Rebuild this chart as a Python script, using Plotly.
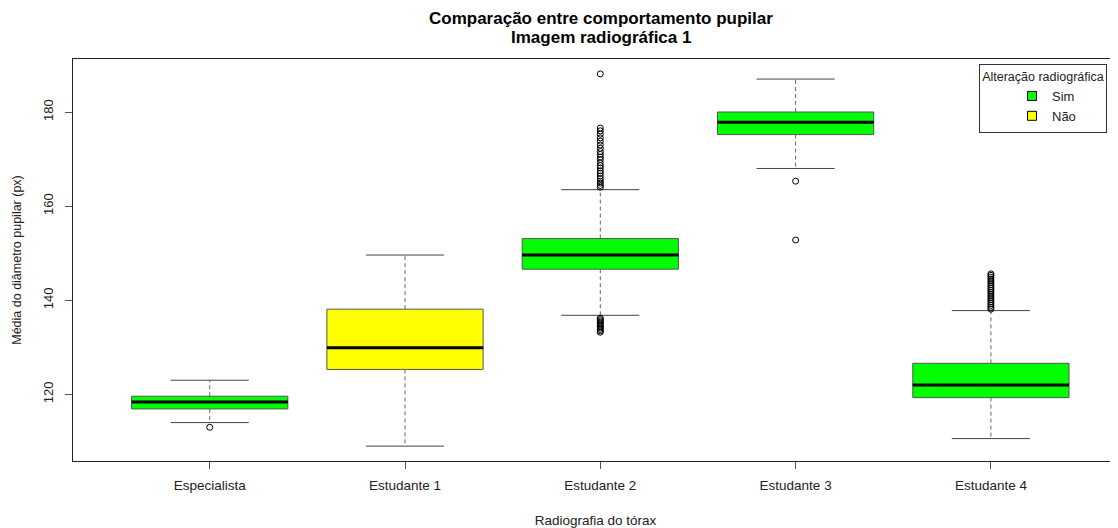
import plotly.graph_objects as go

# ---- data ----
categories = ["Especialista", "Estudante 1", "Estudante 2", "Estudante 3", "Estudante 4"]
alteracao = ["Sim", "Não", "Sim", "Sim", "Sim"]
q1 = [116.9, 125.3, 146.6, 175.2, 119.3]
medians = [118.4, 129.9, 149.6, 177.8, 122.0]
q3 = [119.6, 138.1, 153.1, 180.0, 126.6]
lower_whisker = [114.0, 109.0, 136.8, 168.0, 110.6]
upper_whisker = [123.0, 149.6, 163.5, 187.0, 137.8]
outliers_especialista = [113.0]
outliers_estudante1 = []
outliers_estudante2 = [188.1, 176.6, 176.0, 175.3, 174.5, 173.8, 173.0, 172.3, 171.6, 171.0,
                       170.4, 169.9, 169.2, 168.6, 168.1, 167.5, 167.0, 166.4, 165.8, 165.3,
                       164.9, 164.4, 164.0,
                       136.2, 135.9, 135.6, 135.3, 135.0, 134.7, 134.4, 134.1, 133.8, 133.5, 133.2]
outliers_estudante3 = [165.3, 152.8]
outliers_estudante4 = [145.6, 145.3, 144.9, 144.5, 144.1, 143.7, 143.3, 142.9, 142.5, 142.1,
                       141.7, 141.3, 140.9, 140.5, 140.1, 139.7, 139.3, 138.9, 138.5, 138.1]
y_ticks = [120, 140, 160, 180]
legend_levels = ["Sim", "Não"]
title_lines = ["Comparação entre comportamento pupilar", "Imagem radiográfica 1"]

# ---- styling ----
FONT = "Liberation Sans, Arial, sans-serif"
fill_colors = {"Sim": "#00FF00", "Não": "#FFFF00"}
BOX_LINE = "#555555"
BOX_WIDTH = 0.8
CAP_WIDTH = 0.4

outliers = [outliers_especialista, outliers_estudante1, outliers_estudante2,
            outliers_estudante3, outliers_estudante4]
positions = list(range(1, len(categories) + 1))

fig = go.Figure()

# whiskers (dashed)
wx, wy = [], []
for p, a, b, lo, hi in zip(positions, q1, q3, lower_whisker, upper_whisker):
    wx += [p, p, None, p, p, None]
    wy += [b, hi, None, a, lo, None]
fig.add_trace(go.Scatter(x=wx, y=wy, mode="lines", showlegend=False, hoverinfo="skip",
                         line=dict(color="#666666", width=1, dash="4px,3px")))

# caps
cx, cy = [], []
for p, lo, hi in zip(positions, lower_whisker, upper_whisker):
    cx += [p - CAP_WIDTH / 2, p + CAP_WIDTH / 2, None, p - CAP_WIDTH / 2, p + CAP_WIDTH / 2, None]
    cy += [hi, hi, None, lo, lo, None]
fig.add_trace(go.Scatter(x=cx, y=cy, mode="lines", showlegend=False, hoverinfo="skip",
                         line=dict(color="#444444", width=1)))

# boxes
for p, a, m, b, alt in zip(positions, q1, medians, q3, alteracao):
    fig.add_trace(go.Box(x=[p], q1=[a], median=[m], q3=[b], lowerfence=[a], upperfence=[b],
                         width=BOX_WIDTH, whiskerwidth=0, boxpoints=False,
                         fillcolor=fill_colors[alt], line=dict(color=BOX_LINE, width=1),
                         showlegend=False, hoverinfo="skip"))

# thick medians
mx, my = [], []
for p, m in zip(positions, medians):
    mx += [p - BOX_WIDTH / 2, p + BOX_WIDTH / 2, None]
    my += [m, m, None]
fig.add_trace(go.Scatter(x=mx, y=my, mode="lines", showlegend=False, hoverinfo="skip",
                         line=dict(color="black", width=3)))

# outliers
ox, oy = [], []
for p, outs in zip(positions, outliers):
    ox += [p] * len(outs)
    oy += outs
fig.add_trace(go.Scatter(x=ox, y=oy, mode="markers", showlegend=False, hoverinfo="skip",
                         marker=dict(symbol="circle-open", size=6, color="black",
                                     line=dict(width=1, color="black"))))

# legend entries
for lvl in legend_levels:
    fig.add_trace(go.Scatter(x=[None], y=[None], mode="markers", name=lvl,
                             marker=dict(symbol="square", size=9, color=fill_colors[lvl],
                                         line=dict(color="black", width=1))))

all_vals = lower_whisker + upper_whisker + [v for o in outliers for v in o]
ymin, ymax = min(all_vals), max(all_vals)
pad = 0.04 * (ymax - ymin)

# page is 1118x528, body has an 8px default margin
OFF = 8
W, H = 1118 - OFF, 528 - OFF
plot_left, plot_top, plot_bottom, plot_right = 73, 59.3, 460.7, 1118
L = plot_left - OFF
T = plot_top - OFF
B = H - (plot_bottom - OFF)
R = W - (plot_right - OFF)
PW, PH = W - L - R, H - T - B
unit_px = 195.3
x0 = 0.3
x1 = x0 + PW / unit_px

def px_x(xp):
    return (xp - plot_left) / PW

def px_y(yp):
    return 1 - (yp - plot_top) / PH

title_y_px = [18.5, 37.5]
annotations = [
    dict(text=f"<b>{t}</b>", x=px_x(600.5), xref="paper", xanchor="center",
         y=px_y(yp), yref="paper", yanchor="middle", showarrow=False,
         font=dict(family=FONT, size=17, color="black"))
    for t, yp in zip(title_lines, title_y_px)
]

fig.update_layout(
    width=W, height=H,
    margin=dict(l=L, r=R, t=T, b=B, autoexpand=False),
    paper_bgcolor="white", plot_bgcolor="white",
    font=dict(family=FONT, size=13, color="#222222"),
    annotations=annotations,
    xaxis=dict(range=[x0, x1], tickmode="array", tickvals=positions, ticktext=categories,
               showgrid=False, zeroline=False, showline=True, mirror=True, automargin=False,
               linecolor="#222222", linewidth=1, ticks="outside", ticklen=7,
               tickcolor="#555555", tickfont=dict(size=13.5), ticklabelstandoff=5,
               title=dict(text="Radiografia do tórax", font=dict(size=13.5), standoff=25)),
    yaxis=dict(range=[ymin - pad, ymax + pad], tickmode="array", tickvals=y_ticks,
               showgrid=False, zeroline=False, showline=True, mirror=False, automargin=False,
               linecolor="#222222", linewidth=1, ticks="outside", ticklen=7,
               tickcolor="#555555", tickangle=-90, tickfont=dict(size=13), ticklabelstandoff=7,
               title=dict(text="Média do diâmetro pupilar (px)", font=dict(size=12.5), standoff=16)),
    legend=dict(x=px_x(979), y=px_y(64),
                xanchor="left", yanchor="top",
                bgcolor="white", bordercolor="#333333", borderwidth=1,
                font=dict(size=13), title=dict(text="Alteração radiográfica", side="top center",
                                               font=dict(size=12.5)),
                indentation=32, tracegroupgap=0),
    showlegend=True,
)

fig.write_html("out.html")
